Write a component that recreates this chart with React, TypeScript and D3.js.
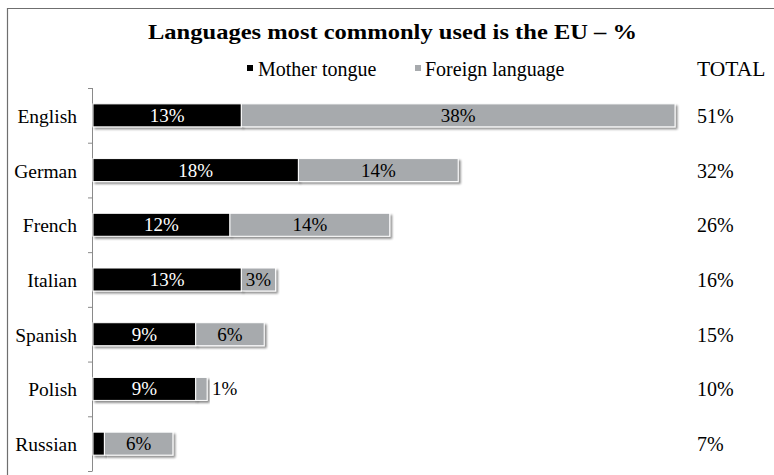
import React from "react";
import * as d3 from "d3";

const categories = ["English", "German", "French", "Italian", "Spanish", "Polish", "Russian"];
const motherTongue = [13, 18, 12, 13, 9, 9, 1];
const foreignLanguage = [38, 14, 14, 3, 6, 1, 6];
const totals = [51, 32, 26, 16, 15, 10, 7];
const seriesNames = ["Mother tongue", "Foreign language"];
const title = "Languages most commonly used is the EU – %";
const totalHeader = "TOTAL";

const W = 774;
const H = 475;
const FONT = "Liberation Serif, DejaVu Serif, serif";
const COLORS = ["#000000", "#a7aaad"];

export default function App() {
  const x = d3.scaleLinear().domain([0, 51]).range([93, 675]);
  const y = d3.scaleBand().domain(categories).range([88, 471]).paddingInner(0.58).paddingOuter(0.29);
  const band = d3.scaleBand().domain(categories).range([88, 471]);
  const stack = d3.stack<any>().keys(["m", "f"]);
  const rows = categories.map((c, i) => ({ c, m: motherTongue[i], f: foreignLanguage[i] }));
  const series = stack(rows);
  const tickYs = categories.map((c) => band(c)!).concat([471]);

  return (
    <div style={{ position: "absolute", left: 0, top: 0 }}>
      <svg width={W} height={H} style={{ display: "block" }} fontFamily={FONT}>
        <defs>
          <filter id="sh" x="-10%" y="-30%" width="130%" height="190%">
            <feGaussianBlur in="SourceAlpha" stdDeviation="1.3" />
            <feOffset dx="1.5" dy="2" result="b" />
            <feComponentTransfer>
              <feFuncA type="linear" slope="0.45" />
            </feComponentTransfer>
            <feMerge>
              <feMergeNode />
              <feMergeNode in="SourceGraphic" />
            </feMerge>
          </filter>
        </defs>
        <rect x={0} y={0} width={W} height={H} fill="#fff" />
        <line x1={7.5} x2={7.5} y1={8} y2={H} stroke="#6f6f6f" strokeWidth={1.2} />
        <line x1={7} x2={W} y1={8.5} y2={8.5} stroke="#6f6f6f" strokeWidth={1.2} />
        <text
          x={148}
          y={39}
          fontSize={21}
          fontWeight="bold"
          fill="#000"
          fontFamily={FONT}
          textLength={489}
          lengthAdjust="spacingAndGlyphs"
        >
          {title}
        </text>
        {/* legend */}
        <rect x={247} y={65} width={6} height={6} fill={COLORS[0]} />
        <text x={258} y={76} fontSize={20} fill="#000" fontFamily={FONT}>{seriesNames[0]}</text>
        <rect x={415} y={65} width={6} height={6} fill={COLORS[1]} />
        <text x={425} y={76} fontSize={20} fill="#000" fontFamily={FONT}>{seriesNames[1]}</text>
        <text x={697} y={76} fontSize={21.5} fill="#000" fontFamily={FONT}>{totalHeader}</text>

        {/* axis */}
        <line x1={92.5} x2={92.5} y1={88} y2={471} stroke="#8a8a8a" strokeWidth={1} />
        {tickYs.map((t, i) => (
          <line key={i} x1={88} x2={92.5} y1={t + 0.5} y2={t + 0.5} stroke="#8a8a8a" strokeWidth={1} />
        ))}
        {categories.map((c) => (
          <text key={c} x={77} y={band(c)! + band.bandwidth() / 2 + 7.5} textAnchor="end" fontSize={19.5} fill="#000" fontFamily={FONT}>
            {c}
          </text>
        ))}

        {/* bars */}
        {series.map((s, si) =>
          s.map((d, i) => {
            const c = categories[i];
            const x0 = x(d[0]);
            const x1 = x(d[1]);
            return (
              <rect
                key={`${si}-${i}`}
                x={x0}
                y={y(c)!}
                width={x1 - x0}
                height={y.bandwidth()}
                fill={COLORS[si]}
                stroke="#fff"
                strokeWidth={1}
                filter="url(#sh)"
              />
            );
          })
        )}
        {series.map((s, si) =>
          s.map((d, i) => {
            const c = categories[i];
            const x0 = x(d[0]);
            const x1 = x(d[1]);
            const w = x1 - x0;
            const v = d[1] - d[0];
            const cy = y(c)! + y.bandwidth() / 2 + 6.5;
            if (w < 20) {
              if (si === series.length - 1) {
                return (
                  <text key={`l${si}-${i}`} x={x1 + 5} y={cy} fontSize={19} fill="#000" fontFamily={FONT}>
                    {v}%
                  </text>
                );
              }
              return null;
            }
            return (
              <text
                key={`l${si}-${i}`}
                x={(x0 + x1) / 2}
                y={cy}
                textAnchor="middle"
                fontSize={19}
                fill={si === 0 ? "#fff" : "#000"}
                fontFamily={FONT}
              >
                {v}%
              </text>
            );
          })
        )}
        {categories.map((c, i) => (
          <text key={`t${c}`} x={697} y={band(c)! + band.bandwidth() / 2 + 7.5} fontSize={20} fill="#000" fontFamily={FONT}>
            {totals[i]}%
          </text>
        ))}
      </svg>
    </div>
  );
}
